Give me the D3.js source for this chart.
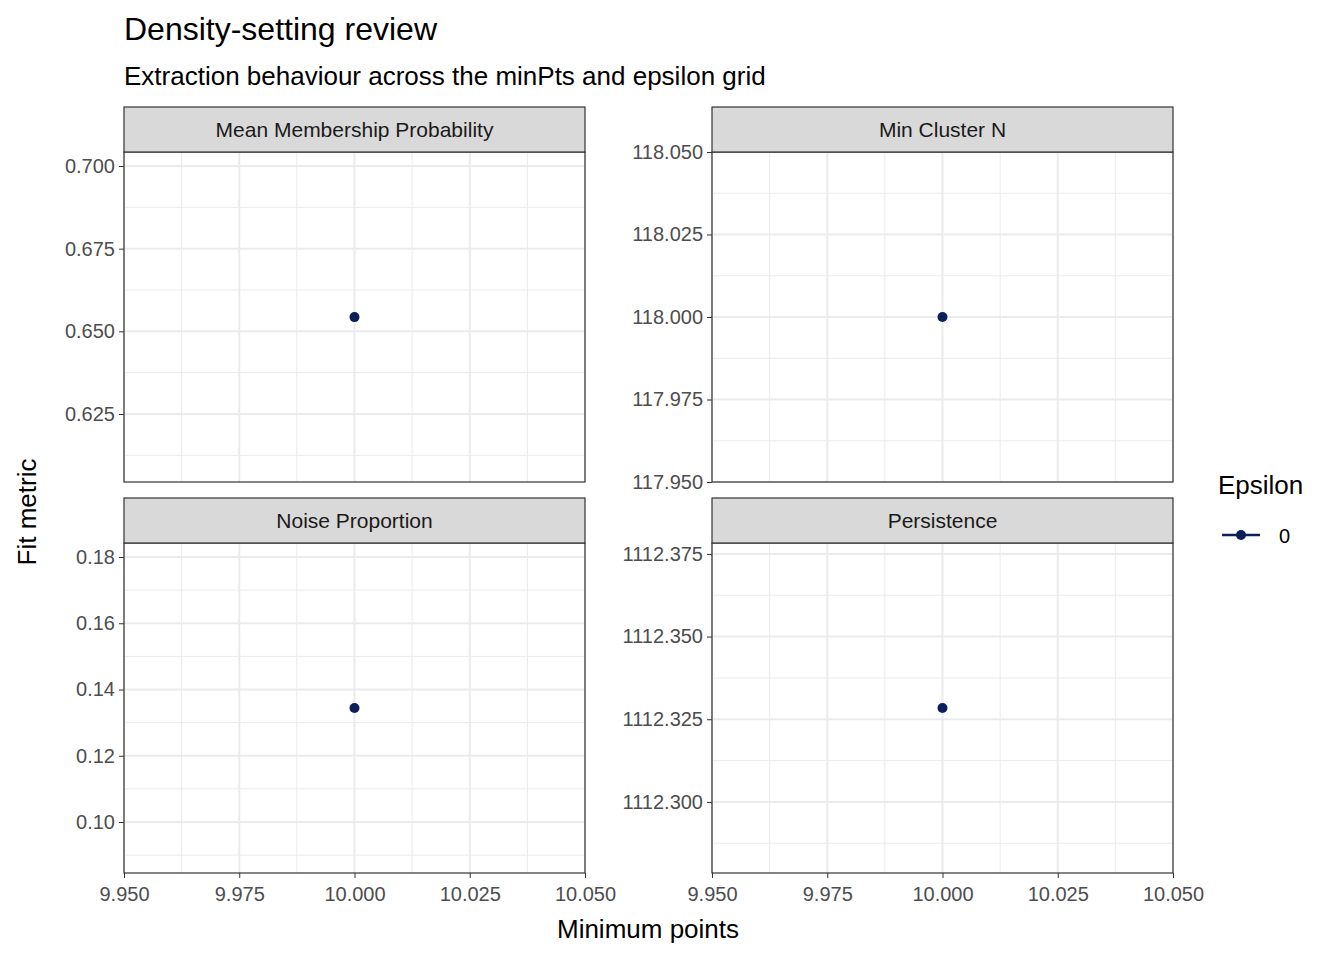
<!DOCTYPE html>
<html><head><meta charset="utf-8">
<script src="https://cdn.jsdelivr.net/npm/d3@7"></script>
<style>body{margin:0;background:#fff}text{font-family:"Liberation Sans",Arial,sans-serif}</style>
</head><body><svg id="c" width="1344" height="960"></svg>
<script>
// data
const metrics = ["Mean Membership Probability", "Min Cluster N", "Noise Proportion", "Persistence"];
const minPts = [10, 10, 10, 10];
const values = [0.6543, 118.0, 0.1344, 1112.3284];
const yDomains = [[0.60444, 0.70423], [117.95, 118.05], [0.0846, 0.18423], [1112.2785, 1112.3783]];
const yTicks = [[0.625, 0.65, 0.675, 0.7], [117.95, 117.975, 118, 118.025, 118.05], [0.10, 0.12, 0.14, 0.16, 0.18], [1112.3, 1112.325, 1112.35, 1112.375]];
const yFormats = [".3f", ".3f", ".2f", ".3f"];
const xDomain = [9.95, 10.05];
const xTicks = [9.95, 9.975, 10, 10.025, 10.05];
const epsilon = ["0"];
const col = "#0d1f5a";

const svg = d3.select("#c");
const cols = [124, 712], pw = 461;
const rows = [{s: 107, t: 152, b: 482}, {s: 498, t: 543, b: 873}];

metrics.forEach((m, i) => {
  const x0 = cols[i % 2], r = rows[Math.floor(i / 2)];
  const x = d3.scaleLinear().domain(xDomain).range([x0, x0 + pw]);
  const y = d3.scaleLinear().domain(yDomains[i]).range([r.b, r.t]);
  const g = svg.append("g");
  const minorX = d3.pairs(xTicks).map(p => (p[0] + p[1]) / 2);
  const ys = yTicks[i], minorY = d3.pairs(ys).map(p => (p[0] + p[1]) / 2);
  const step = ys[1] - ys[0];
  if (ys[0] - step / 2 > yDomains[i][0]) minorY.unshift(ys[0] - step / 2);
  if (ys[ys.length - 1] + step / 2 < yDomains[i][1]) minorY.push(ys[ys.length - 1] + step / 2);
  g.selectAll(".mx").data(minorX).join("line").attr("x1", x).attr("x2", x).attr("y1", r.t).attr("y2", r.b).attr("stroke", "#ebebeb").attr("stroke-width", 1);
  g.selectAll(".my").data(minorY).join("line").attr("y1", y).attr("y2", y).attr("x1", x0).attr("x2", x0 + pw).attr("stroke", "#ebebeb").attr("stroke-width", 1);
  g.selectAll(".gx").data(xTicks).join("line").attr("x1", x).attr("x2", x).attr("y1", r.t).attr("y2", r.b).attr("stroke", "#ebebeb").attr("stroke-width", 2);
  g.selectAll(".gy").data(ys).join("line").attr("y1", y).attr("y2", y).attr("x1", x0).attr("x2", x0 + pw).attr("stroke", "#ebebeb").attr("stroke-width", 2);
  g.append("circle").attr("cx", x(minPts[i])).attr("cy", y(values[i])).attr("r", 5).attr("fill", col);
  g.append("rect").attr("x", x0).attr("y", r.t).attr("width", pw).attr("height", r.b - r.t).attr("fill", "none").attr("stroke", "#333").attr("stroke-width", 1.2);
  g.append("rect").attr("x", x0).attr("y", r.s).attr("width", pw).attr("height", r.t - r.s).attr("fill", "#d9d9d9").attr("stroke", "#333").attr("stroke-width", 1.2);
  g.append("text").attr("x", x0 + pw / 2).attr("y", (r.s + r.t) / 2 + 7).attr("text-anchor", "middle").attr("font-size", 21).attr("fill", "#1a1a1a").text(m);
  const ay = g.append("g").attr("transform", `translate(${x0},0)`).call(d3.axisLeft(y).tickValues(ys).tickFormat(d3.format(yFormats[i])).tickSize(5).tickPadding(4));
  ay.select(".domain").remove();
  ay.selectAll("line").attr("stroke", "#333");
  ay.selectAll("text").attr("font-size", 20).attr("fill", "#4d4d4d");
  if (i >= 2) {
    const ax = g.append("g").attr("transform", `translate(0,${r.b})`).call(d3.axisBottom(x).tickValues(xTicks).tickFormat(d3.format(".3f")).tickSize(5).tickPadding(5));
    ax.select(".domain").remove();
    ax.selectAll("line").attr("stroke", "#333");
    ax.selectAll("text").attr("font-size", 20).attr("fill", "#4d4d4d").attr("dy", "0.9em");
  }
});

svg.append("text").attr("x", 124).attr("y", 40).attr("font-size", 32).attr("fill", "#000").text("Density-setting review");
svg.append("text").attr("x", 124).attr("y", 85).attr("font-size", 26).attr("fill", "#000").text("Extraction behaviour across the minPts and epsilon grid");
svg.append("text").attr("x", 648).attr("y", 938).attr("text-anchor", "middle").attr("font-size", 26).text("Minimum points");
svg.append("text").attr("transform", "translate(36,512) rotate(-90)").attr("text-anchor", "middle").attr("font-size", 26).text("Fit metric");

const lg = svg.append("g");
lg.append("text").attr("x", 1218).attr("y", 494).attr("font-size", 26).text("Epsilon");
epsilon.forEach((e, k) => {
  const yy = 535 + k * 30;
  lg.append("line").attr("x1", 1222).attr("x2", 1260).attr("y1", yy).attr("y2", yy).attr("stroke", col).attr("stroke-width", 2.5);
  lg.append("circle").attr("cx", 1241).attr("cy", yy).attr("r", 5).attr("fill", col);
  lg.append("text").attr("x", 1279).attr("y", yy + 8).attr("font-size", 20).text(e);
});
</script></body></html>
